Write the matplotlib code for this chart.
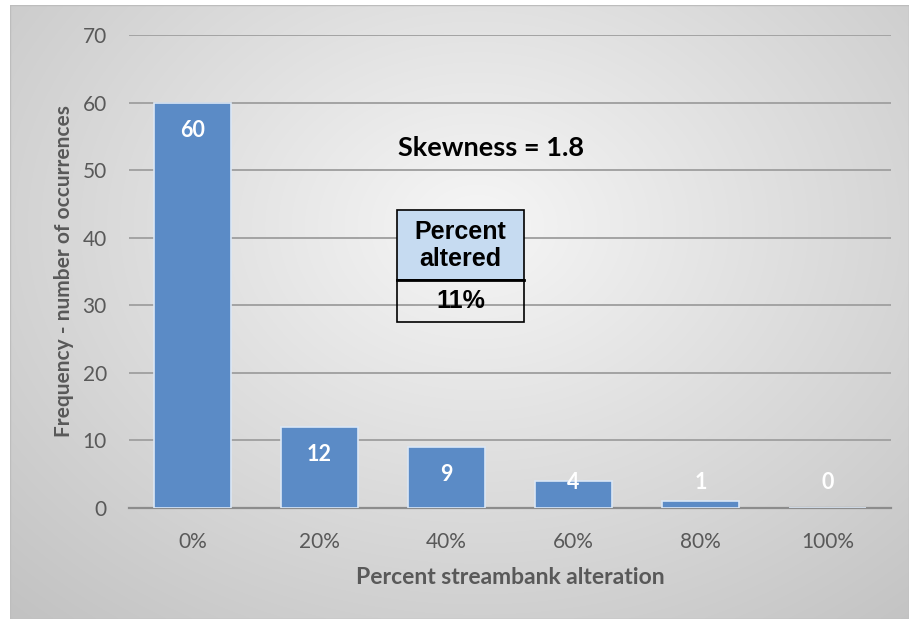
import numpy as np
import matplotlib
matplotlib.use("Agg")
import matplotlib.pyplot as plt
from matplotlib.patches import Rectangle

#
# Data
#
categories = ["0%", "20%", "40%", "60%", "80%", "100%"]
counts = [60, 12, 9, 4, 1, 0]
yticks = [0, 10, 20, 30, 40, 50, 60, 70]
skew_text = "Skewness = 1.8"
table_header = "Percent\naltered"
table_value = "11%"

W, H = 909, 619
fig = plt.figure(figsize=(W / 100, H / 100), dpi=100)
fig.patch.set_facecolor("white")

#
# Radial gray background behind the chart
#
bg = fig.add_axes([10 / W, 0, 1 - 10 / W, 1 - 5 / H])
bg.set_axis_off()
gx, gy = np.meshgrid(np.linspace(0, 1, 400), np.linspace(0, 1, 300))
r = np.sqrt(((gx - 0.52) / 0.75) ** 2 + ((gy - 0.36) / 0.85) ** 2)
shade = np.clip(0.965 - 0.2 * r, 0.76, 0.97)
bg.imshow(np.dstack([shade] * 3), extent=[0, 1, 0, 1], aspect="auto",
          origin="upper", interpolation="bicubic")
bg.add_patch(Rectangle((0, 0), 1, 1, transform=bg.transAxes, fill=False,
                       edgecolor="#bdbdbd", lw=1.0))

#
# Main plot
#
ax = fig.add_axes([129 / W, 1 - 508 / H, (891 - 129) / W, (508 - 35) / H])
ax.patch.set_alpha(0)

x = np.arange(len(categories))
ax.bar(x, counts, width=0.6, color="#5b8bc6", edgecolor="#dbe7f5",
       linewidth=1.2, zorder=3)

for xi, v in zip(x, counts):
    ax.text(xi, max(v - 4.1, 3.7), str(v), ha="center", va="center",
            color="white", fontsize=15.5, fontweight="bold", family="Lato",
            zorder=4)

ax.set_xlim(-0.5, len(categories) - 0.5)
ax.set_ylim(0, 70)
ax.set_yticks(yticks)
ax.set_xticks(x)
ax.set_xticklabels(categories)
ax.grid(axis="y", color="#a3a3a3", linewidth=1.4, zorder=1)
ax.set_axisbelow(True)
for s in ["top", "right", "left"]:
    ax.spines[s].set_visible(False)
ax.spines["bottom"].set_color("#8c8c8c")
ax.spines["bottom"].set_linewidth(1.6)
ax.tick_params(length=0, labelsize=15, labelcolor="#595959")
ax.tick_params(axis="y", pad=16)
ax.tick_params(axis="x", pad=17)
for lab in ax.get_xticklabels() + ax.get_yticklabels():
    lab.set_family("Lato")

ax.set_xlabel("Percent streambank alteration", fontsize=16.5,
              fontweight="bold", color="#595959", family="Lato", labelpad=11)
ax.set_ylabel("Frequency - number of occurrences", fontsize=15,
              fontweight="bold", color="#595959", family="Lato", labelpad=6)

# Skewness annotation
ax.text(2.35, 53.3, skew_text, ha="center", va="center", fontsize=19.5,
        fontweight="bold", color="black", family="Lato")

# Small table
tx0, tx1 = 1.61, 2.61
ax.add_patch(Rectangle((tx0, 33.7), tx1 - tx0, 10.4, facecolor="#c6dbf1",
                       edgecolor="black", lw=1.2, zorder=5))
ax.add_patch(Rectangle((tx0, 27.5), tx1 - tx0, 6.2, facecolor="none",
                       edgecolor="black", lw=1.2, zorder=5))
ax.plot([tx0, tx1], [33.7, 33.7], color="black", lw=2.0, zorder=6)
ax.text((tx0 + tx1) / 2, 38.9, table_header, ha="center", va="center",
        fontsize=18, fontweight="bold", family="Liberation Sans",
        linespacing=1.15, zorder=6)
ax.text((tx0 + tx1) / 2, 30.6, table_value, ha="center", va="center",
        fontsize=18, fontweight="bold", family="Liberation Sans", zorder=6)

fig.savefig("out.png", dpi=100)
